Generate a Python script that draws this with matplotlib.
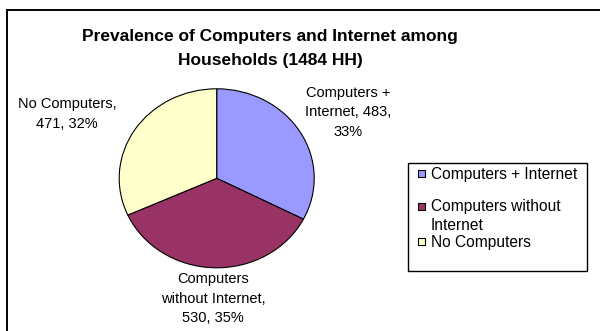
import matplotlib.pyplot as plt
from matplotlib.patches import Rectangle

plt.rcParams["font.family"] = ["Liberation Sans", "DejaVu Sans"]

# household counts per group
categories = ["Computers + Internet", "Computers without Internet", "No Computers"]
counts = [483, 530, 471]
percents = [33, 35, 32]
colors = ["#9999FF", "#993366", "#FFFFCC"]
legend_names = ["Computers + Internet", "Computers without\nInternet", "No Computers"]
label_templates = [
    "Computers +\nInternet, {n},\n{p}%",
    "Computers\nwithout Internet,\n{n}, {p}%",
    "No Computers,\n{n}, {p}%",
]
title = "Prevalence of Computers and Internet among\nHouseholds (1484 HH)"

W, H = 600, 331
fig = plt.figure(figsize=(W / 100, H / 100), dpi=100)


def fx(px):
    return px / W


def fy(py):
    return 1 - py / H


# chart area border (runs off the right and bottom edges)
fig.patches.append(Rectangle((fx(7), -0.2), 2, fy(10) + 0.2, transform=fig.transFigure,
                             fill=False, edgecolor="black", linewidth=1.4))

fig.text(fx(270), fy(48), title, ha="center", va="center", fontsize=12.5,
         fontweight="bold", linespacing=1.75)

# pie is slightly wider than tall
cx, cy, rx, ry = 216.7, 178.3, 97.5, 89.5
ax = fig.add_axes([fx(cx - rx), fy(cy + ry), 2 * rx / W, 2 * ry / H])
ax.pie(counts, colors=colors, startangle=90, counterclock=False,
       wedgeprops=dict(edgecolor="black", linewidth=0.8))
ax.set_aspect("auto")
ax.set_xlim(-1, 1)
ax.set_ylim(-1, 1)
ax.axis("off")

label_pos = [(348, 112), (213, 299), (67, 114)]
for tpl, n, p, (px, py) in zip(label_templates, counts, percents, label_pos):
    ax.text((px - cx) / rx, (cy - py) / ry, tpl.format(n=n, p=p), ha="center", va="center",
            fontsize=10.5, linespacing=1.5, clip_on=False)

# legend box drawn in pixel units
lx0, ly0, lx1, ly1 = 408, 163, 587, 271
lax = fig.add_axes([fx(lx0), fy(ly1), (lx1 - lx0) / W, (ly1 - ly0) / H])
lax.set_xlim(0, lx1 - lx0)
lax.set_ylim(ly1 - ly0, 0)
lax.axis("off")
lax.add_patch(Rectangle((0, 0), lx1 - lx0, ly1 - ly0, fill=False, edgecolor="black",
                        linewidth=1.0, clip_on=False))
entry_rows = [10, 43, 78]
for name, color, row in zip(legend_names, colors, entry_rows):
    lax.add_patch(Rectangle((10, row - 3.5), 7, 7, facecolor=color, edgecolor="black",
                            linewidth=0.8))
    for i, line in enumerate(name.split("\n")):
        lax.text(23, row + 1 + i * 18.5, line, ha="left", va="center", fontsize=11.2)

fig.savefig("out.png", dpi=100)
